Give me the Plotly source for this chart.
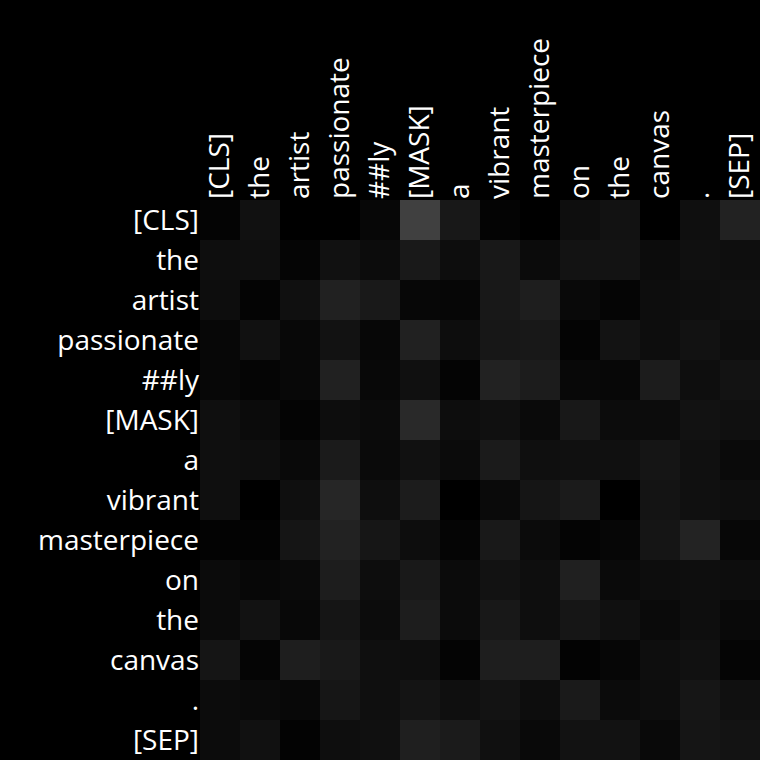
import plotly.graph_objects as go

tokens = ["[CLS]", "the", "artist", "passionate", "##ly", "[MASK]", "a",
          "vibrant", "masterpiece", "on", "the", "canvas", ".", "[SEP]"]

# attention weights (rows = query token, cols = key token), read as grey level / 255
gray_hex = [
    [0x04, 0x11, 0x00, 0x00, 0x07, 0x40, 0x18, 0x04, 0x00, 0x0e, 0x12, 0x00, 0x0f, 0x22],
    [0x0e, 0x0f, 0x05, 0x11, 0x0c, 0x19, 0x0d, 0x18, 0x0b, 0x13, 0x13, 0x0c, 0x10, 0x0e],
    [0x0d, 0x04, 0x10, 0x21, 0x19, 0x07, 0x06, 0x18, 0x1e, 0x09, 0x05, 0x0d, 0x0e, 0x10],
    [0x07, 0x11, 0x08, 0x12, 0x07, 0x21, 0x0d, 0x17, 0x18, 0x04, 0x13, 0x0d, 0x12, 0x0d],
    [0x07, 0x05, 0x08, 0x21, 0x08, 0x10, 0x04, 0x22, 0x1c, 0x08, 0x07, 0x1c, 0x0e, 0x13],
    [0x0f, 0x0b, 0x04, 0x0d, 0x0b, 0x29, 0x0d, 0x10, 0x0a, 0x18, 0x0c, 0x0c, 0x12, 0x10],
    [0x0f, 0x0e, 0x09, 0x1b, 0x0a, 0x11, 0x0b, 0x1b, 0x0f, 0x10, 0x10, 0x15, 0x10, 0x0a],
    [0x0f, 0x00, 0x0f, 0x26, 0x0e, 0x1c, 0x00, 0x0a, 0x15, 0x1b, 0x00, 0x14, 0x10, 0x0e],
    [0x03, 0x03, 0x15, 0x22, 0x16, 0x0d, 0x05, 0x19, 0x0b, 0x04, 0x06, 0x15, 0x23, 0x07],
    [0x0b, 0x07, 0x0a, 0x1d, 0x0d, 0x19, 0x0b, 0x12, 0x0e, 0x20, 0x0a, 0x0d, 0x0e, 0x0d],
    [0x0b, 0x12, 0x08, 0x15, 0x0c, 0x1d, 0x0b, 0x18, 0x0e, 0x16, 0x10, 0x0a, 0x0e, 0x09],
    [0x15, 0x05, 0x1e, 0x19, 0x0f, 0x0e, 0x04, 0x1e, 0x1e, 0x03, 0x06, 0x0e, 0x11, 0x05],
    [0x0c, 0x0a, 0x08, 0x16, 0x0f, 0x14, 0x0f, 0x13, 0x0d, 0x1a, 0x0b, 0x0d, 0x16, 0x10],
    [0x0c, 0x11, 0x03, 0x0e, 0x10, 0x1f, 0x1b, 0x10, 0x09, 0x12, 0x12, 0x09, 0x15, 0x13],
]
attention = [[round(v / 255, 4) for v in row] for row in gray_hex]

idx = list(range(len(tokens)))

fig = go.Figure(go.Heatmap(
    z=attention, x=idx, y=idx,
    colorscale=[[0, "rgb(0,0,0)"], [1, "rgb(255,255,255)"]],
    zmin=0, zmax=1, showscale=False, hoverongaps=False,
))

font = dict(family="Open Sans", size=28, color="white")
fig.update_layout(
    width=760, height=760,
    margin=dict(l=200, r=0, t=200, b=0),
    paper_bgcolor="black", plot_bgcolor="black",
    xaxis=dict(side="top", tickmode="array", tickvals=idx, ticktext=tokens,
               tickangle=-90, tickfont=font, showgrid=False, zeroline=False,
               ticks="", range=[-0.5, 13.5]),
    yaxis=dict(tickmode="array", tickvals=idx, ticktext=tokens, tickfont=font,
               showgrid=False, zeroline=False, ticks="", range=[13.5, -0.5]),
)

fig.write_html("out.html")
